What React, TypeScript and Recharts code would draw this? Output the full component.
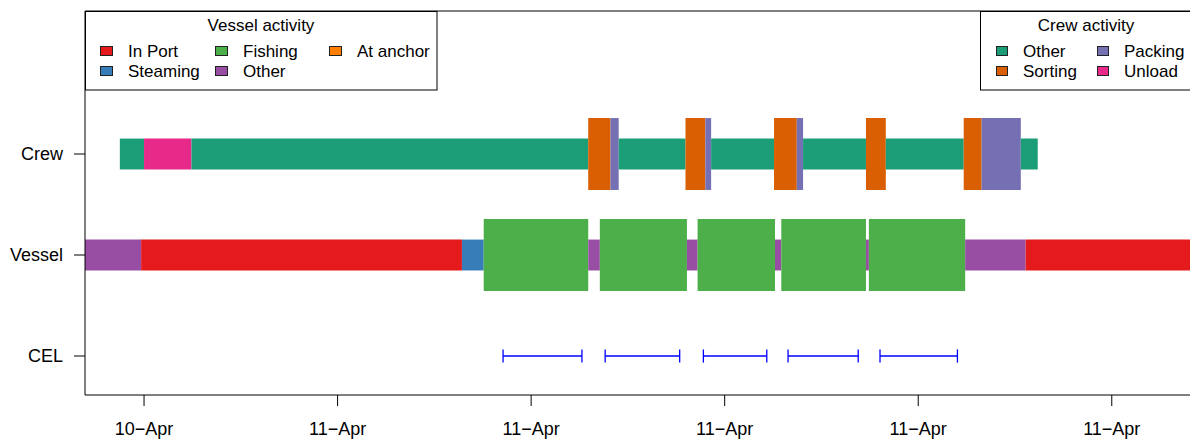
import React from 'react';
import { ComposedChart, XAxis, YAxis, ReferenceArea, ReferenceLine, Scatter } from 'recharts';

// rows on the y axis, bottom to top
const rowNames = ['CEL', 'Vessel', 'Crew'];

// x is hours since 10-Apr 00:00, ticks every 4 hours
const xTicks = [20, 24, 28, 32, 36, 40];
const xTickLabels = ['10\u2212Apr', '11\u2212Apr', '11\u2212Apr', '11\u2212Apr', '11\u2212Apr', '11\u2212Apr'];

const crewStart = [19.5, 20.0, 20.98, 29.18, 29.64, 29.81, 31.19, 31.6, 31.72, 33.02, 33.49, 33.62, 34.92, 35.33, 36.94, 37.31, 38.12];
const crewEnd = [20.0, 20.98, 29.18, 29.64, 29.81, 31.19, 31.6, 31.72, 33.02, 33.49, 33.62, 34.92, 35.33, 36.94, 37.31, 38.12, 38.47];
const crewActivity = ['Other', 'Unload', 'Other', 'Sorting', 'Packing', 'Other', 'Sorting', 'Packing', 'Other', 'Sorting', 'Packing', 'Other', 'Sorting', 'Other', 'Sorting', 'Packing', 'Other'];

const vesselStart = [18.5, 19.94, 26.57, 27.02, 29.18, 29.42, 31.22, 31.44, 33.04, 33.17, 34.92, 34.98, 36.97, 38.22];
const vesselEnd = [19.94, 26.57, 27.02, 29.18, 29.42, 31.22, 31.44, 33.04, 33.17, 34.92, 34.98, 36.97, 38.22, 43];
const vesselActivity = ['Other', 'In Port', 'Steaming', 'Fishing', 'Other', 'Fishing', 'Other', 'Fishing', 'Other', 'Fishing', 'Other', 'Fishing', 'Other', 'In Port'];

const celStart = [27.42, 29.53, 31.56, 33.31, 35.21];
const celEnd = [29.05, 31.07, 32.87, 34.76, 36.81];

const vesselLegendNames = ['In Port', 'Steaming', 'Fishing', 'Other', 'At anchor'];
const crewLegendNames = ['Other', 'Sorting', 'Packing', 'Unload'];

const vesselColors: Record<string, string> = {
  'In Port': '#E41A1C',
  Steaming: '#377EB8',
  Fishing: '#4DAF4A',
  Other: '#984EA3',
  'At anchor': '#FF7F00',
};
const crewColors: Record<string, string> = {
  Other: '#1B9E77',
  Sorting: '#D95F02',
  Packing: '#7570B3',
  Unload: '#E7298A',
};

const FONT = '"Liberation Sans", Arial, Helvetica, sans-serif';
const THIN = 0.153;
const THICK = 0.356;
const X_DOMAIN = [18.78, 41.72];
const Y_DOMAIN = [0.614, 4.416];

const celMid = celStart.map((s, i) => ({ x: (s + celEnd[i]) / 2, y: 1 }));

function Legends() {
  const vesselCols = [100, 215, 329];
  const crewCols = [996, 1097];
  const rows = [51, 71];
  return (
    <svg width={1190} height={442} style={{ position: 'absolute', left: 0, top: 0, pointerEvents: 'none' }}>
      <g fontFamily={FONT} fontSize={17} fill="#000">
        <rect x={85.5} y={11.5} width={351.5} height={78.5} fill="#fff" stroke="#000" />
        <text x={261} y={25} textAnchor="middle" dominantBaseline="central">Vessel activity</text>
        {vesselLegendNames.map((name, i) => {
          const col = Math.floor(i / 2);
          const row = i % 2;
          return (
            <g key={name}>
              <rect x={vesselCols[col] + 0.5} y={rows[row] - 4.5} width={12} height={9} fill={vesselColors[name]} stroke="#222" />
              <text x={vesselCols[col] + 28} y={rows[row]} dominantBaseline="central">{name}</text>
            </g>
          );
        })}
        <rect x={980.5} y={11.5} width={220} height={78.5} fill="#fff" stroke="#000" />
        <text x={1086} y={25} textAnchor="middle" dominantBaseline="central">Crew activity</text>
        {crewLegendNames.map((name, i) => {
          const col = Math.floor(i / 2);
          const row = i % 2;
          return (
            <g key={name}>
              <rect x={crewCols[col] + 0.5} y={rows[row] - 4.5} width={11} height={9} fill={crewColors[name]} stroke="#222" />
              <text x={crewCols[col] + 27} y={rows[row]} dominantBaseline="central">{name}</text>
            </g>
          );
        })}
      </g>
    </svg>
  );
}

export default function App() {
  return (
    <div style={{ position: 'absolute', left: 0, top: 0, width: 1190, height: 442, overflow: 'hidden', background: '#fff' }}>
      <ComposedChart width={1200} height={442} margin={{ top: 11, right: 5, bottom: 0, left: 0 }} style={{ fontFamily: FONT }}>
        <XAxis
          type="number"
          dataKey="x"
          domain={X_DOMAIN}
          allowDataOverflow
          ticks={xTicks}
          tickFormatter={(v: number) => xTickLabels[xTicks.indexOf(v)] ?? ''}
          height={47}
          tickSize={11}
          tickMargin={16}
          axisLine={{ stroke: '#000' }}
          tickLine={{ stroke: '#000' }}
          tick={{ fill: '#000', fontSize: 18 }}
        />
        <YAxis
          type="number"
          dataKey="y"
          domain={Y_DOMAIN}
          allowDataOverflow
          ticks={[1, 2, 3]}
          tickFormatter={(v: number) => rowNames[v - 1] ?? ''}
          width={85}
          tickSize={11}
          tickMargin={11}
          axisLine={{ stroke: '#000' }}
          tickLine={{ stroke: '#000' }}
          tick={{ fill: '#000', fontSize: 18 }}
        />
        <ReferenceLine y={Y_DOMAIN[1]} stroke="#000" ifOverflow="visible" />

        {vesselStart.map((s, i) => {
          const h = vesselActivity[i] === 'Fishing' ? THICK : THIN;
          return (
            <ReferenceArea
              key={'v' + i}
              x1={s}
              x2={vesselEnd[i]}
              y1={2 - h}
              y2={2 + h}
              fill={vesselColors[vesselActivity[i]]}
              fillOpacity={1}
              stroke="none"
              ifOverflow="hidden"
            />
          );
        })}

        {crewStart.map((s, i) => {
          const act = crewActivity[i];
          const h = act === 'Sorting' || act === 'Packing' ? THICK : THIN;
          return (
            <ReferenceArea
              key={'c' + i}
              x1={s}
              x2={crewEnd[i]}
              y1={3 - h}
              y2={3 + h}
              fill={crewColors[act]}
              fillOpacity={1}
              stroke="none"
              ifOverflow="hidden"
            />
          );
        })}

        {celStart.map((s, i) => (
          <ReferenceLine
            key={'l' + i}
            segment={[{ x: s, y: 1 }, { x: celEnd[i], y: 1 }]}
            stroke="#0000FF"
            strokeWidth={1.3}
          />
        ))}
        {celStart.map((s, i) => (
          <ReferenceLine key={'a' + i} segment={[{ x: s, y: 0.935 }, { x: s, y: 1.065 }]} stroke="#0000FF" strokeWidth={1.3} />
        ))}
        {celEnd.map((e, i) => (
          <ReferenceLine key={'b' + i} segment={[{ x: e, y: 0.935 }, { x: e, y: 1.065 }]} stroke="#0000FF" strokeWidth={1.3} />
        ))}

        <Scatter data={celMid} dataKey="y" fill="none" legendType="none" isAnimationActive={false} />
      </ComposedChart>
      <Legends />
    </div>
  );
}
